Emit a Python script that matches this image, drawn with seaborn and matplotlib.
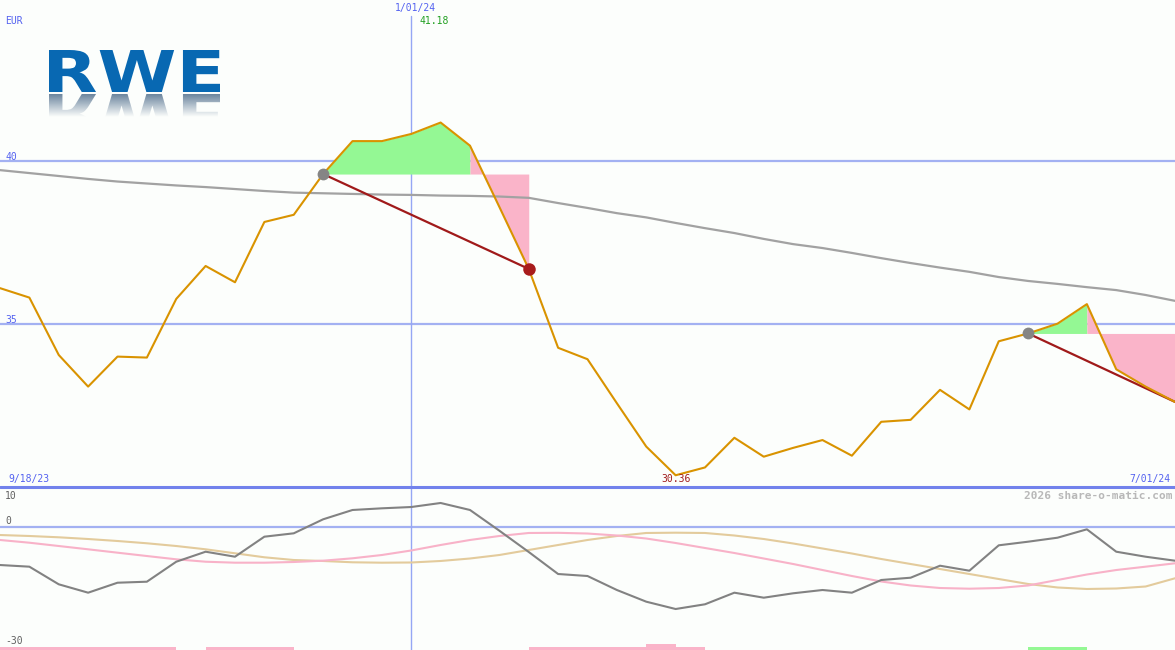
#!/usr/bin/env python3
"""
RWE weekly share price chart with trade signals and oscillator panel
"""

import numpy as np
import pandas as pd
import matplotlib
matplotlib.use("Agg")
import matplotlib.pyplot as plt
import seaborn as sns
from matplotlib.textpath import TextPath
from matplotlib.font_manager import FontProperties
from matplotlib.patches import PathPatch
from matplotlib.transforms import Affine2D

# weekly closes, EUR
dates = pd.date_range("2023-09-25", periods=41, freq="7D")
price = [36.10, 35.81, 34.05, 33.08, 34.00, 33.97, 35.77, 36.78, 36.28, 38.13,
         38.35, 39.60, 40.61, 40.61, 40.83, 41.18, 40.47, 38.59, 36.69, 34.27,
         33.92, 32.57, 31.24, 30.36, 30.60, 31.51, 30.93, 31.20, 31.44, 30.96,
         32.00, 32.06, 32.98, 32.38, 34.47, 34.71, 35.01, 35.61, 33.61, 33.08,
         32.61]
# long moving average
ma_long = [39.72, 39.63, 39.54, 39.45, 39.37, 39.31, 39.25, 39.20, 39.14, 39.08,
           39.03, 39.01, 38.99, 38.97, 38.96, 38.94, 38.93, 38.91, 38.87, 38.71,
           38.56, 38.40, 38.27, 38.10, 37.94, 37.79, 37.61, 37.45, 37.33, 37.18,
           37.02, 36.87, 36.73, 36.60, 36.44, 36.32, 36.23, 36.13, 36.04, 35.89,
           35.71]

# oscillator panel
osc_main = [-9.34, -9.75, -14.08, -16.14, -13.69, -13.44, -8.53, -6.07, -7.30, -2.38,
            -1.55, 1.89, 4.18, 4.59, 4.91, 5.90, 4.18, -0.91, -6.14, -11.55,
            -12.04, -15.48, -18.35, -20.15, -18.99, -16.14, -17.37, -16.29, -15.48, -16.14,
            -13.02, -12.46, -9.51, -10.74, -4.50, -3.61, -2.63, -0.57, -6.07, -7.30,
            -8.28]
osc_pink = [-3.19, -3.86, -4.67, -5.48, -6.31, -7.13, -7.94, -8.53, -8.77, -8.77,
            -8.60, -8.28, -7.69, -6.88, -5.77, -4.42, -3.19, -2.21, -1.47, -1.43,
            -1.60, -2.09, -2.83, -3.93, -5.16, -6.39, -7.74, -9.09, -10.57, -12.04,
            -13.39, -14.37, -14.99, -15.16, -14.99, -14.37, -13.02, -11.67, -10.57, -9.75,
            -8.92]
osc_tan = [-1.97, -2.21, -2.53, -2.95, -3.44, -4.00, -4.67, -5.48, -6.46, -7.44,
           -8.11, -8.35, -8.67, -8.77, -8.72, -8.35, -7.74, -6.88, -5.65, -4.42,
           -3.19, -2.21, -1.47, -1.40, -1.47, -2.09, -2.95, -4.05, -5.28, -6.51,
           -7.86, -9.09, -10.32, -11.55, -12.78, -14.00, -14.86, -15.23, -15.11, -14.62,
           -12.60]
# weekly signal bars along the bottom (negative = pink, positive = green)
signal_bars = [-0.8, -0.8, -0.8, -0.8, -0.8, -0.8, 0, -0.8, -0.8, -0.8,
               0, 0, 0, 0, 0, 0, 0, 0, -0.8, -0.8,
               -0.8, -0.8, -1.5, -0.8, 0, 0, 0, 0, 0, 0,
               0, 0, 0, 0, 0, 0.8, 0.8, 0, 0, 0]

# trades: entry week, week where gain turns to giveback, exit week
trade_entry = [11, 35]
trade_split = [16, 37]
trade_exit = [18, 40]

BG = "#fcfefc"
GRID_BLUE = "#a3b1f2"
VLINE_BLUE = "#95a6f4"
LABEL_BLUE = "#5462f0"

sns.set_theme(style="white", rc={"axes.facecolor": BG, "figure.facecolor": BG})
plt.rcParams["font.family"] = ["DejaVu Sans Mono", "DejaVu Sans"]

fig = plt.figure(figsize=(11.75, 6.5), dpi=100)
split = (650 - 487) / 650
ax = fig.add_axes([0, split, 1, 1 - split])
ax2 = fig.add_axes([0, 0, 1, split])

# ---- price panel ----
for lvl in (40, 35):
    ax.axhline(lvl, color=GRID_BLUE, lw=1.6, zorder=0.5)
ax.axvline(pd.Timestamp("2024-01-01"), ymin=0, ymax=(487 - 16) / 487,
           color=VLINE_BLUE, lw=1.0, zorder=0.5)

price_arr = np.array(price)
for e, s, x in zip(trade_entry, trade_split, trade_exit):
    lvl = price_arr[e]
    ax.fill_between(dates[e:s + 1], price_arr[e:s + 1], lvl, color="#94f894",
                    lw=0, zorder=1)
    ax.fill_between(dates[s:x + 1], price_arr[s:x + 1], lvl, color="#fab4c9",
                    lw=0, zorder=1)

sns.lineplot(x=dates, y=ma_long, ax=ax, color="#a2a2a2", lw=1.6, zorder=2)
for e, x in zip(trade_entry, trade_exit):
    ax.plot([dates[e], dates[x]], [price_arr[e], price_arr[x]], color="#a01a1a",
            lw=1.6, zorder=3)
sns.lineplot(x=dates, y=price, ax=ax, color="#d99300", lw=1.5, zorder=4)
for e, x in zip(trade_entry, trade_exit):
    ax.plot(dates[e], price_arr[e], "o", ms=8.5, color="#858585", mew=0, zorder=5)
    if x < len(price) - 1:
        ax.plot(dates[x], price_arr[x], "o", ms=9, color="#a81c1c", mew=0, zorder=5)

ax.set_xlim(dates[0], dates[-1])
ax.set_ylim(40 - (487 - 161) / 32.6, 40 + 161 / 32.6)

imin = int(np.argmin(price_arr))
ax.text(dates[imin], 40 - (479 - 161) / 32.6, f"{price_arr[imin]:.2f}",
        color="#a01c1c", fontsize=7, ha="center", va="center", zorder=6)

# ---- oscillator panel ----
ax2.axhline(0, color=GRID_BLUE, lw=1.6, zorder=0.5)
ax2.axvline(pd.Timestamp("2024-01-01"), color=VLINE_BLUE, lw=1.0, zorder=0.5)
sns.lineplot(x=dates, y=osc_tan, ax=ax2, color="#e3cb9c", lw=1.5, zorder=2)
sns.lineplot(x=dates, y=osc_pink, ax=ax2, color="#f8b2c8", lw=1.5, zorder=2)
sns.lineplot(x=dates, y=osc_main, ax=ax2, color="#828282", lw=1.5, zorder=3)
ybot = -(650 - 527) / 4.07
bar_h = np.abs(signal_bars)
bar_c = ["#94f894" if v > 0 else "#fab4c9" for v in signal_bars]
ax2.bar(dates[:-1], bar_h, width=pd.Timedelta(days=7), align="edge",
        bottom=ybot, color=bar_c, lw=0, zorder=1)
ax2.set_xlim(dates[0], dates[-1])
ax2.set_ylim(ybot, (527 - 487) / 4.07)

for a in (ax, ax2):
    a.set_axis_off()
    a.patch.set_visible(True)
    a.set_xlabel("")
    a.set_ylabel("")

# ---- overlay in pixel coordinates: labels, separator, logo ----
ov = fig.add_axes([0, 0, 1, 1], zorder=10)
ov.set_xlim(0, 1175)
ov.set_ylim(650, 0)
ov.set_axis_off()
ov.patch.set_visible(False)

ov.axhline(487, color="#7282ec", lw=2.2)

fs = 7
ov.text(5, 21, "EUR", color=LABEL_BLUE, fontsize=fs, va="center")
ov.text(5, 157, "40", color=LABEL_BLUE, fontsize=fs, va="center")
ov.text(5, 320, "35", color=LABEL_BLUE, fontsize=fs, va="center")
ov.text(415, 8, "1/01/24", color=LABEL_BLUE, fontsize=fs, ha="center", va="center")
ov.text(420, 21, "41.18", color="#22a022", fontsize=fs, va="center")
ov.text(8, 479, "9/18/23", color=LABEL_BLUE, fontsize=fs, va="center")
ov.text(1170, 479, "7/01/24", color=LABEL_BLUE, fontsize=fs, ha="right", va="center")
ov.text(1172, 496, "2026 share-o-matic.com", color="#b8b8b8", fontsize=8,
        ha="right", va="center", fontweight="bold")
ov.text(5, 496, "10", color="#606060", fontsize=fs, va="center")
ov.text(5, 521, "0", color="#606060", fontsize=fs, va="center")
ov.text(5, 641, "-30", color="#606060", fontsize=fs, va="center")

# RWE logo with faded reflection
tp = TextPath((0, 0), "RWE", size=1,
              prop=FontProperties(family="DejaVu Sans", weight="bold"))
ext = tp.get_extents()
sx = (220 - 49) / ext.width
sy = (92 - 50) / ext.height
upright = Affine2D().translate(-ext.x0, -ext.y0).scale(sx, -sy).translate(49, 92)
mirror = Affine2D().translate(-ext.x0, -ext.y0).scale(sx, sy).translate(49, 94)
ov.add_patch(PathPatch(upright.transform_path(tp), color="#0868b2", lw=0))
refl = PathPatch(mirror.transform_path(tp), facecolor="none", lw=0)
ov.add_patch(refl)
grad = np.zeros((60, 1, 4))
grad[:, 0, :3] = (0.36, 0.47, 0.58)
grad[:, 0, 3] = np.linspace(0.9, 0.0, 60)
im = ov.imshow(grad, extent=(49, 220, 117, 94), origin="upper", aspect="auto",
               interpolation="bilinear")
im.set_clip_path(refl)
ov.set_xlim(0, 1175)
ov.set_ylim(650, 0)

fig.savefig("out.png", dpi=100, facecolor=BG)
